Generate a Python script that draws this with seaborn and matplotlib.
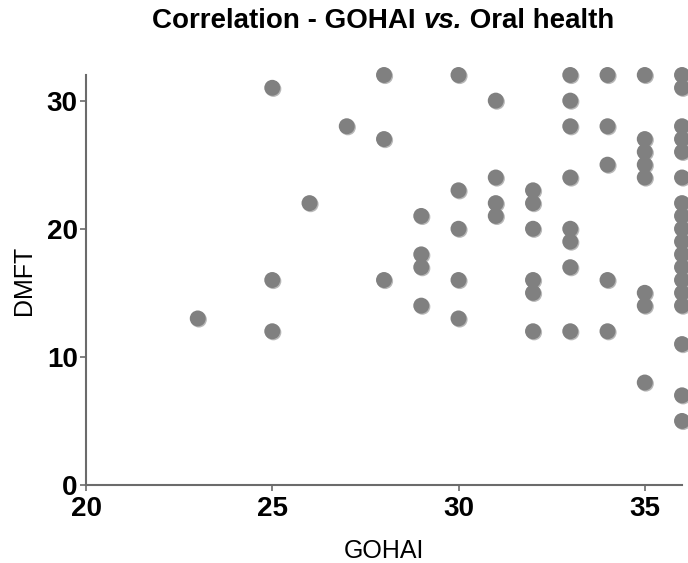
import matplotlib
matplotlib.use("Agg")
import matplotlib.pyplot as plt
import matplotlib.patheffects as pe
import pandas as pd
import seaborn as sns

# GOHAI score and DMFT index for each participant
gohai = (
    [23]
    + [25] * 3
    + [26]
    + [27]
    + [28] * 3
    + [29] * 4
    + [30] * 5
    + [31] * 4
    + [32] * 6
    + [33] * 8
    + [34] * 5
    + [35] * 8
    + [36] * 18
)
dmft = (
    [13]
    + [31, 16, 12]
    + [22]
    + [28]
    + [32, 27, 16]
    + [21, 18, 17, 14]
    + [32, 23, 20, 16, 13]
    + [30, 24, 22, 21]
    + [23, 22, 20, 16, 15, 12]
    + [32, 30, 28, 24, 20, 19, 17, 12]
    + [32, 28, 25, 16, 12]
    + [32, 27, 26, 25, 24, 15, 14, 8]
    + [32, 31, 28, 27, 26, 24, 22, 21, 20, 19, 18, 17, 16, 15, 14, 11, 7, 5]
)

x_ticks = [20, 25, 30, 35]
y_ticks = [0, 10, 20, 30]

df = pd.DataFrame({"GOHAI": gohai, "DMFT": dmft})

sns.set_theme(style="ticks")
plt.rcParams["font.family"] = ["Liberation Sans", "DejaVu Sans"]
plt.rcParams["text.color"] = "black"
plt.rcParams["axes.labelcolor"] = "black"

fig = plt.figure(figsize=(6.88, 5.63), dpi=100)
ax = fig.add_axes([0.125, 0.1385, 0.8663, 0.7283])

sns.scatterplot(
    data=df, x="GOHAI", y="DMFT", ax=ax,
    s=132, color="#808080", edgecolor="none", linewidth=0,
    clip_on=False, zorder=3,
)
for coll in ax.collections:
    coll.set_path_effects([
        pe.SimplePatchShadow(offset=(0.8, -0.8), shadow_rgbFace="#b8b8b8", alpha=1.0),
        pe.Normal(),
    ])

ax.set_xlim(20, 36)
ax.set_ylim(0, 32)
ax.set_xticks(x_ticks)
ax.set_yticks(y_ticks)
ax.set_xticklabels([str(t) for t in x_ticks], fontsize=20, fontweight="bold")
ax.set_yticklabels([str(t) for t in y_ticks], fontsize=20, fontweight="bold")

sns.despine(ax=ax)
for side in ("left", "bottom"):
    ax.spines[side].set_color("#6b6b6b")
    ax.spines[side].set_linewidth(1.5)
ax.tick_params(axis="x", colors="#6b6b6b", length=4, width=1.2, pad=4,
               labelcolor="black")
ax.tick_params(axis="y", colors="#6b6b6b", length=4, width=1.2, pad=2,
               labelcolor="black")

ax.set_xlabel("GOHAI", fontsize=18, labelpad=12)
ax.set_ylabel("DMFT", fontsize=18, labelpad=8)

# Title with an italic "vs." in the middle, laid out piece by piece
parts = [
    ("Correlation - GOHAI ", "normal"),
    ("vs.", "italic"),
    (" Oral health", "normal"),
]
title_y = 1 - 21 / 563
texts = [fig.text(0, title_y, s, fontsize=20, fontweight="bold", style=st,
                  ha="left", va="center", color="black") for s, st in parts]
fig.canvas.draw()
renderer = fig.canvas.get_renderer()
widths = [t.get_window_extent(renderer).width for t in texts]
total = sum(widths)
x0 = 383 - total / 2
for t, w in zip(texts, widths):
    t.set_x(x0 / fig.bbox.width)
    x0 += w

fig.savefig("out.png", dpi=100)
